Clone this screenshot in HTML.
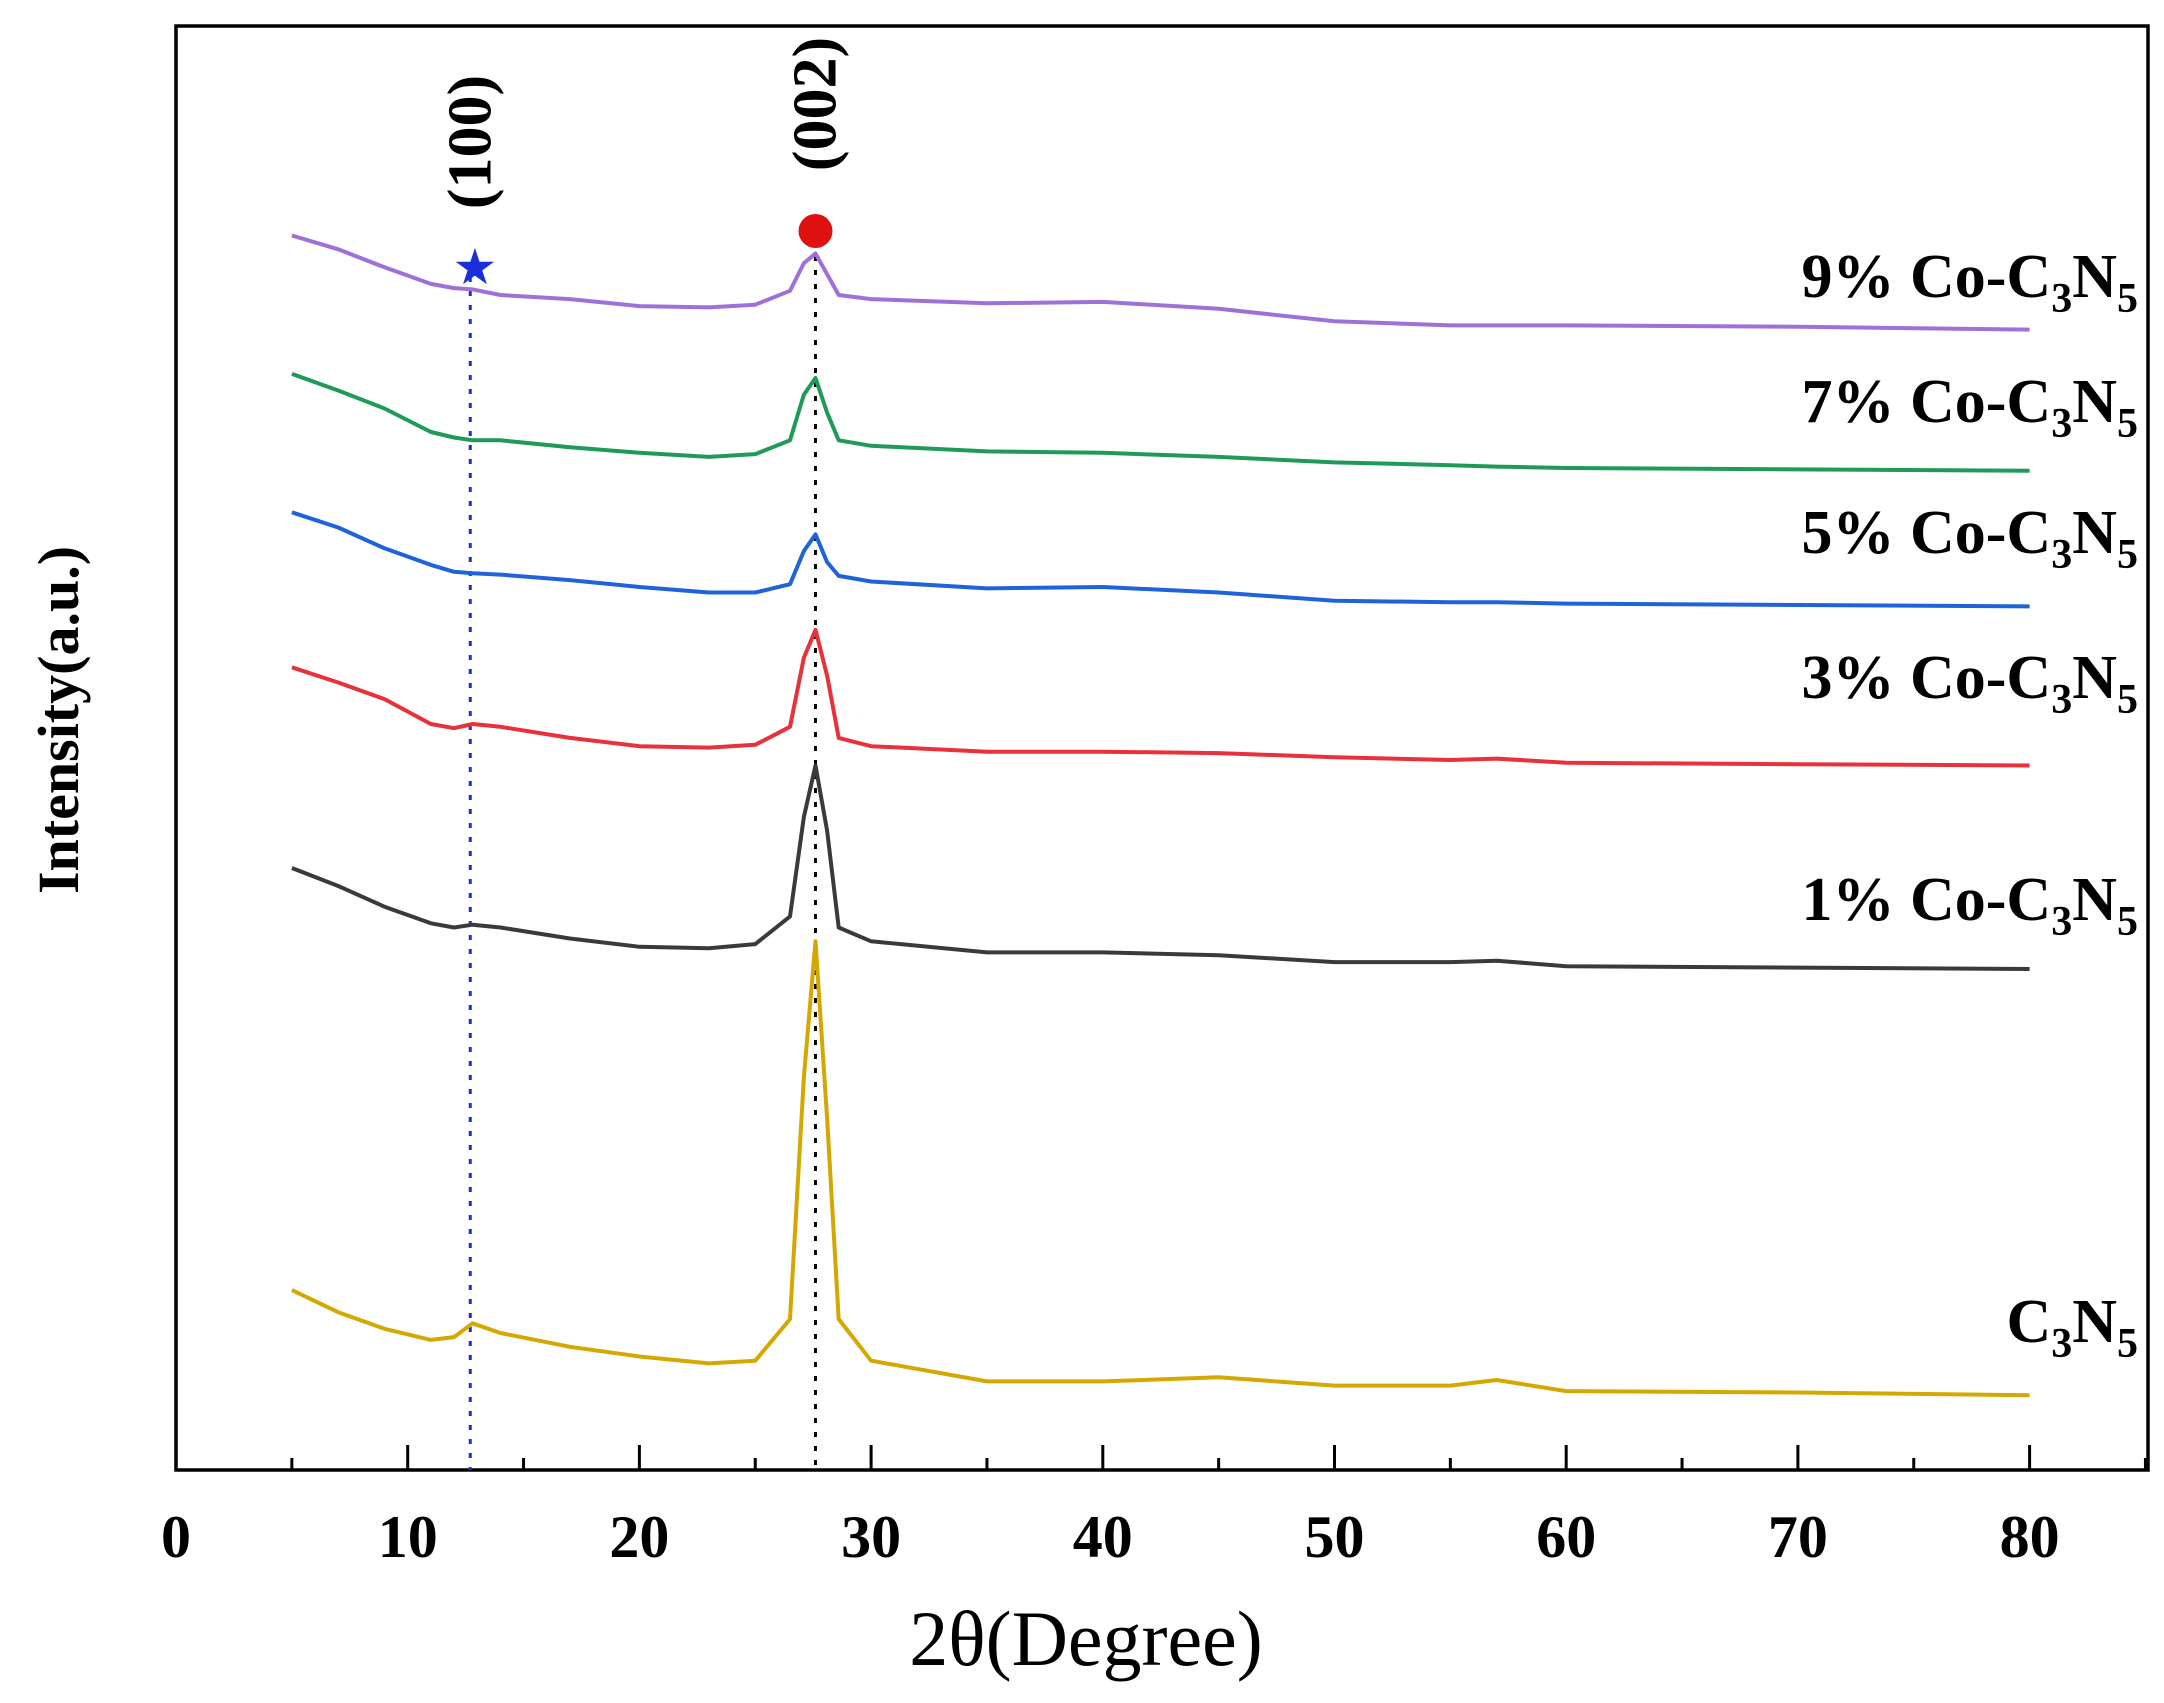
<!DOCTYPE html>
<html><head><meta charset="utf-8"><style>
body{margin:0;background:#fff}
svg{display:block}
text{font-family:"Liberation Serif",serif}
</style></head><body>
<svg id="c" width="2164" height="1703" viewBox="0 0 2164 1703" xmlns="http://www.w3.org/2000/svg">
<rect x="176" y="26" width="1972" height="1444" fill="none" stroke="#000" stroke-width="3.5"/>
<g id="ticks"></g>
<g id="series"></g>
<g id="labels"></g>
<text x="1086" y="1665" font-size="78" text-anchor="middle">2θ(Degree)</text>
<text transform="translate(78,720) rotate(-90)" font-size="58" font-weight="bold" text-anchor="middle">Intensity(a.u.)</text>
</svg>
<script>
const xGrid=[5,7,9,11,12,12.8,14,17,20,23,25,26.5,27.1,27.6,28.1,28.6,30,35,40,45,50,55,57,60,70,80];
const seriesNames=["C3N5","1%","3%","5%","7%","9%"];
const seriesColors=["#d4a800","#3a3a3a","#e8313a","#1f63d8","#1f9a5a","#a070d8"];
const seriesOffsets=[54,362,509,624,722,824];
const sYellow=[76,60,48,40,42,52,45,35,28,23,25,55,230,328,200,55,25,10,10,13,7,7,11,3,2,0];
const sBlack=[73,60,45,33,30,32,30,22,16,15,18,38,110,147,100,30,20,12,12,10,5,5,6,2,1,0];
const sRed=[71,60,48,30,27,30,28,20,14,13,15,28,78,98,65,20,14,10,10,9,6,4,5,2,1,0];
const sBlue=[68,57,42,30,25,24,23,19,14,10,10,16,40,52,32,22,18,13,14,10,4,3,3,2,1,0];
const sGreen=[70,58,45,28,24,22,22,17,13,10,12,22,55,67,42,22,18,14,13,10,6,4,3,2,1,0];
const sPurple=[68,58,45,33,30,29,25,22,17,16,18,28,48,55,40,25,22,19,20,15,6,3,3,3,2,0];
const xTicks=[0,10,20,30,40,50,60,70,80];
const peakPositions=[12.7,27.6];
const allSeries=[sYellow,sBlack,sRed,sBlue,sGreen,sPurple];
const labelY=[1342,920,698,553,422,297];

const NS="http://www.w3.org/2000/svg";
const X=v=>176+v*23.17;
const Y=i=>1470-i*1.384;
function mk(t,a,p){const e=document.createElementNS(NS,t);for(const k in a)e.setAttribute(k,a[k]);p.appendChild(e);return e;}
const tk=document.getElementById('ticks');
for(let v=0;v<=85;v+=5){
  const major=v%10===0;
  const t=mk('line',{x1:X(v),x2:X(v),y1:1470,y2:1470-(major?25:12),stroke:'#000','stroke-width':3},tk);
  
  
}
xTicks.forEach(v=>{
  const t=mk('text',{x:X(v),y:1557,'font-size':60,'font-weight':'bold','text-anchor':'middle'},tk);
  t.textContent=v;
  
  
});
const sg=document.getElementById('series');
const refColors=["#1a2fd8","#000"];
const refTop=[277,256];
peakPositions.forEach((p,i)=>{
  const l=mk('line',{x1:X(p),x2:X(p),y1:refTop[i],y2:1470,stroke:refColors[i],'stroke-width':3,'stroke-dasharray':'5,9'},sg);
  
  
});
allSeries.forEach((s,i)=>{
  const pts=s.map((d,j)=>X(xGrid[j]).toFixed(1)+','+Y(d+seriesOffsets[i]).toFixed(1)).join(' ');
  const pl=mk('polyline',{points:pts,fill:'none',stroke:seriesColors[i],'stroke-width':4,'stroke-linejoin':'round'},sg);
  
  
});
const star=mk('text',{x:X(12.9),y:284,'font-size':50,fill:'#1a2fd8','text-anchor':'middle'},sg);
star.textContent='★';


const ball=mk('circle',{cx:X(27.6),cy:231,r:17,fill:'#e01010'},sg);


const a1=mk('text',{transform:`translate(${X(12.7)+20},142) rotate(-90)`,'font-size':62,'font-weight':'bold','text-anchor':'middle'},sg);
a1.textContent='(100)';


const a2=mk('text',{transform:`translate(${X(27.6)+20},104) rotate(-90)`,'font-size':62,'font-weight':'bold','text-anchor':'middle'},sg);
a2.textContent='(002)';


const lg=document.getElementById('labels');
seriesNames.forEach((n,i)=>{
  const t=mk('text',{x:2138,y:labelY[i],'font-size':62,'font-weight':'bold','text-anchor':'end'},lg);
  const pre=n==="C3N5"?"":n+" Co-";
  t.innerHTML=pre+'C<tspan font-size="42" dy="15">3</tspan><tspan dy="-15">N</tspan><tspan font-size="42" dy="15">5</tspan>';
  
  
});
</script>
</body></html>
